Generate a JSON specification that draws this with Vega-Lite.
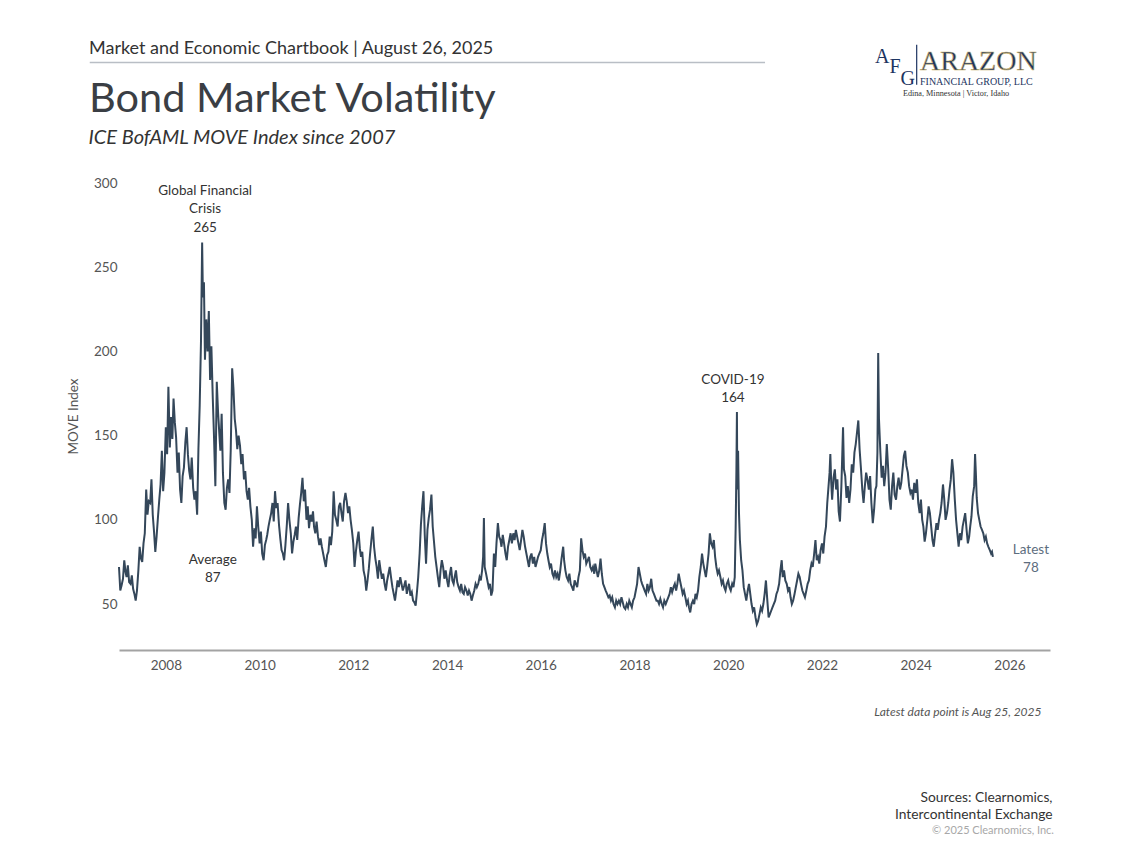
{
  "$schema": "https://vega.github.io/schema/vega-lite/v6.json",
  "description": "Bond Market Volatility - ICE BofAML MOVE Index since 2007",
  "width": 931,
  "height": 467,
  "autosize": {"type": "none"},
  "padding": {"left": 119, "top": 183, "right": 88, "bottom": 207},
  "background": "white",
  "title": {
    "text": "Market and Economic Chartbook | August 26, 2025",
    "subtitle": "Bond Market Volatility",
    "anchor": "start",
    "frame": "group",
    "dx": -30,
    "offset": -76,
    "font": "Lato",
    "fontSize": 18,
    "fontWeight": "normal",
    "color": "#333333",
    "subtitleFont": "Lato",
    "subtitleFontSize": 41.5,
    "subtitleColor": "#3a3e44",
    "subtitlePadding": 21
  },
  "config": {
    "view": {"stroke": null},
    "font": "Lato",
    "axis": {"titleFontWeight": "normal", "labelFont": "Lato", "titleFont": "Lato"}
  },
  "layer": [
    {
      "data": {"values": [
        {"d":"2007-01-01","v":72},{"d":"2007-01-11","v":58},{"d":"2007-01-21","v":61},
        {"d":"2007-02-01","v":65},{"d":"2007-02-11","v":76},{"d":"2007-02-21","v":69},
        {"d":"2007-03-01","v":66},{"d":"2007-03-11","v":73},{"d":"2007-03-21","v":63},
        {"d":"2007-04-01","v":62},{"d":"2007-04-11","v":67},{"d":"2007-04-21","v":59},
        {"d":"2007-05-01","v":56},{"d":"2007-05-11","v":52},{"d":"2007-05-21","v":58},
        {"d":"2007-06-01","v":70},{"d":"2007-06-11","v":84},{"d":"2007-06-21","v":77},
        {"d":"2007-07-01","v":75},{"d":"2007-07-11","v":86},{"d":"2007-07-21","v":92},
        {"d":"2007-08-01","v":118},{"d":"2007-08-11","v":103},{"d":"2007-08-21","v":111},
        {"d":"2007-09-01","v":110},{"d":"2007-09-11","v":124},{"d":"2007-09-21","v":103},
        {"d":"2007-10-01","v":93},{"d":"2007-10-11","v":81},{"d":"2007-10-21","v":90},
        {"d":"2007-11-01","v":102},{"d":"2007-11-11","v":112},{"d":"2007-11-21","v":121},
        {"d":"2007-12-01","v":141},{"d":"2007-12-11","v":117},{"d":"2007-12-21","v":128},
        {"d":"2008-01-01","v":155},{"d":"2008-01-11","v":139},{"d":"2008-01-21","v":179},
        {"d":"2008-02-01","v":143},{"d":"2008-02-11","v":161},{"d":"2008-02-21","v":148},
        {"d":"2008-03-01","v":172},{"d":"2008-03-11","v":158},{"d":"2008-03-21","v":149},
        {"d":"2008-04-01","v":128},{"d":"2008-04-11","v":140},{"d":"2008-04-21","v":118},
        {"d":"2008-05-01","v":110},{"d":"2008-05-11","v":126},{"d":"2008-05-21","v":131},
        {"d":"2008-06-01","v":146},{"d":"2008-06-11","v":155},{"d":"2008-06-21","v":139},
        {"d":"2008-07-01","v":129},{"d":"2008-07-11","v":124},{"d":"2008-07-21","v":137},
        {"d":"2008-08-01","v":119},{"d":"2008-08-11","v":112},{"d":"2008-08-21","v":117},
        {"d":"2008-09-01","v":103},{"d":"2008-09-11","v":142},{"d":"2008-09-21","v":168},
        {"d":"2008-10-01","v":206},{"d":"2008-10-10","v":264.6},{"d":"2008-10-16","v":232},{"d":"2008-10-24","v":241},
        {"d":"2008-11-01","v":195},{"d":"2008-11-11","v":219},{"d":"2008-11-21","v":200},
        {"d":"2008-12-01","v":224},{"d":"2008-12-11","v":183},{"d":"2008-12-21","v":203},
        {"d":"2009-01-01","v":172},{"d":"2009-01-11","v":148},{"d":"2009-01-21","v":120},
        {"d":"2009-02-01","v":182},{"d":"2009-02-11","v":164},{"d":"2009-02-21","v":151},
        {"d":"2009-03-01","v":141},{"d":"2009-03-11","v":163},{"d":"2009-03-21","v":128},
        {"d":"2009-04-01","v":110},{"d":"2009-04-11","v":106},{"d":"2009-04-21","v":119},
        {"d":"2009-05-01","v":124},{"d":"2009-05-11","v":116},{"d":"2009-05-21","v":142},
        {"d":"2009-06-01","v":190},{"d":"2009-06-11","v":178},{"d":"2009-06-21","v":160},
        {"d":"2009-07-01","v":153},{"d":"2009-07-11","v":142},{"d":"2009-07-21","v":150},
        {"d":"2009-08-01","v":144},{"d":"2009-08-11","v":133},{"d":"2009-08-21","v":139},
        {"d":"2009-09-01","v":124},{"d":"2009-09-11","v":129},{"d":"2009-09-21","v":117},
        {"d":"2009-10-01","v":112},{"d":"2009-10-11","v":119},{"d":"2009-10-21","v":108},
        {"d":"2009-11-01","v":100},{"d":"2009-11-11","v":84},{"d":"2009-11-21","v":95},
        {"d":"2009-12-01","v":89},{"d":"2009-12-11","v":108},{"d":"2009-12-21","v":96},
        {"d":"2010-01-01","v":86},{"d":"2010-01-11","v":93},{"d":"2010-01-21","v":80},
        {"d":"2010-02-01","v":76},{"d":"2010-02-11","v":85},{"d":"2010-02-21","v":88},
        {"d":"2010-03-01","v":91},{"d":"2010-03-11","v":96},{"d":"2010-03-21","v":100},
        {"d":"2010-04-01","v":104},{"d":"2010-04-11","v":110},{"d":"2010-04-21","v":99},
        {"d":"2010-05-01","v":117},{"d":"2010-05-11","v":107},{"d":"2010-05-21","v":110},
        {"d":"2010-06-01","v":97},{"d":"2010-06-11","v":89},{"d":"2010-06-21","v":82},
        {"d":"2010-07-01","v":80},{"d":"2010-07-11","v":76},{"d":"2010-07-21","v":85},
        {"d":"2010-08-01","v":97},{"d":"2010-08-11","v":110},{"d":"2010-08-21","v":100},
        {"d":"2010-09-01","v":92},{"d":"2010-09-11","v":80},{"d":"2010-09-21","v":87},
        {"d":"2010-10-01","v":91},{"d":"2010-10-11","v":96},{"d":"2010-10-21","v":88},
        {"d":"2010-11-01","v":101},{"d":"2010-11-11","v":109},{"d":"2010-11-21","v":116},
        {"d":"2010-12-01","v":125},{"d":"2010-12-11","v":111},{"d":"2010-12-21","v":118},
        {"d":"2011-01-01","v":100},{"d":"2011-01-11","v":108},{"d":"2011-01-21","v":95},
        {"d":"2011-02-01","v":103},{"d":"2011-02-11","v":99},{"d":"2011-02-21","v":105},
        {"d":"2011-03-01","v":96},{"d":"2011-03-11","v":92},{"d":"2011-03-21","v":99},
        {"d":"2011-04-01","v":90},{"d":"2011-04-11","v":85},{"d":"2011-04-21","v":89},
        {"d":"2011-05-01","v":84},{"d":"2011-05-11","v":80},{"d":"2011-05-21","v":76},
        {"d":"2011-06-01","v":72},{"d":"2011-06-11","v":79},{"d":"2011-06-21","v":81},
        {"d":"2011-07-01","v":90},{"d":"2011-07-11","v":85},{"d":"2011-07-21","v":93},
        {"d":"2011-08-01","v":117},{"d":"2011-08-11","v":103},{"d":"2011-08-21","v":100},
        {"d":"2011-09-01","v":96},{"d":"2011-09-11","v":108},{"d":"2011-09-21","v":110},
        {"d":"2011-10-01","v":104},{"d":"2011-10-11","v":99},{"d":"2011-10-21","v":111},
        {"d":"2011-11-01","v":116},{"d":"2011-11-11","v":111},{"d":"2011-11-21","v":104},
        {"d":"2011-12-01","v":108},{"d":"2011-12-11","v":100},{"d":"2011-12-21","v":94},
        {"d":"2012-01-01","v":86},{"d":"2012-01-11","v":72},{"d":"2012-01-21","v":81},
        {"d":"2012-02-01","v":88},{"d":"2012-02-11","v":93},{"d":"2012-02-21","v":83},
        {"d":"2012-03-01","v":78},{"d":"2012-03-11","v":81},{"d":"2012-03-21","v":70},
        {"d":"2012-04-01","v":66},{"d":"2012-04-11","v":58},{"d":"2012-04-21","v":64},
        {"d":"2012-05-01","v":71},{"d":"2012-05-11","v":80},{"d":"2012-05-21","v":88},
        {"d":"2012-06-01","v":96},{"d":"2012-06-11","v":84},{"d":"2012-06-21","v":77},
        {"d":"2012-07-01","v":72},{"d":"2012-07-11","v":65},{"d":"2012-07-21","v":76},
        {"d":"2012-08-01","v":70},{"d":"2012-08-11","v":65},{"d":"2012-08-21","v":68},
        {"d":"2012-09-01","v":62},{"d":"2012-09-11","v":58},{"d":"2012-09-21","v":64},
        {"d":"2012-10-01","v":68},{"d":"2012-10-11","v":72},{"d":"2012-10-21","v":66},
        {"d":"2012-11-01","v":60},{"d":"2012-11-11","v":56},{"d":"2012-11-21","v":52},
        {"d":"2012-12-01","v":58},{"d":"2012-12-11","v":64},{"d":"2012-12-21","v":60},
        {"d":"2013-01-01","v":66},{"d":"2013-01-11","v":62},{"d":"2013-01-21","v":58},
        {"d":"2013-02-01","v":61},{"d":"2013-02-11","v":64},{"d":"2013-02-21","v":56},
        {"d":"2013-03-01","v":59},{"d":"2013-03-11","v":62},{"d":"2013-03-21","v":55},
        {"d":"2013-04-01","v":57},{"d":"2013-04-11","v":52},{"d":"2013-04-21","v":51},
        {"d":"2013-05-01","v":49},{"d":"2013-05-11","v":57},{"d":"2013-05-21","v":66},
        {"d":"2013-06-01","v":80},{"d":"2013-06-11","v":97},{"d":"2013-06-21","v":108},
        {"d":"2013-07-01","v":117},{"d":"2013-07-11","v":91},{"d":"2013-07-21","v":74},
        {"d":"2013-08-01","v":94},{"d":"2013-08-11","v":101},{"d":"2013-08-21","v":106},
        {"d":"2013-09-01","v":115},{"d":"2013-09-11","v":96},{"d":"2013-09-21","v":87},
        {"d":"2013-10-01","v":78},{"d":"2013-10-11","v":72},{"d":"2013-10-21","v":66},
        {"d":"2013-11-01","v":60},{"d":"2013-11-11","v":70},{"d":"2013-11-21","v":76},
        {"d":"2013-12-01","v":72},{"d":"2013-12-11","v":65},{"d":"2013-12-21","v":70},
        {"d":"2014-01-01","v":64},{"d":"2014-01-11","v":60},{"d":"2014-01-21","v":67},
        {"d":"2014-02-01","v":72},{"d":"2014-02-11","v":64},{"d":"2014-02-21","v":62},
        {"d":"2014-03-01","v":66},{"d":"2014-03-11","v":70},{"d":"2014-03-21","v":63},
        {"d":"2014-04-01","v":60},{"d":"2014-04-11","v":58},{"d":"2014-04-21","v":62},
        {"d":"2014-05-01","v":57},{"d":"2014-05-11","v":56},{"d":"2014-05-21","v":60},
        {"d":"2014-06-01","v":58},{"d":"2014-06-11","v":55},{"d":"2014-06-21","v":58},
        {"d":"2014-07-01","v":56},{"d":"2014-07-11","v":52},{"d":"2014-07-21","v":55},
        {"d":"2014-08-01","v":58},{"d":"2014-08-11","v":62},{"d":"2014-08-21","v":60},
        {"d":"2014-09-01","v":62},{"d":"2014-09-11","v":66},{"d":"2014-09-21","v":64},
        {"d":"2014-10-01","v":70},{"d":"2014-10-09","v":78},{"d":"2014-10-15","v":101},{"d":"2014-10-21","v":72},
        {"d":"2014-11-01","v":68},{"d":"2014-11-11","v":64},{"d":"2014-11-21","v":60},
        {"d":"2014-12-01","v":62},{"d":"2014-12-11","v":55},{"d":"2014-12-21","v":58},
        {"d":"2015-01-01","v":80},{"d":"2015-01-11","v":72},{"d":"2015-01-21","v":86},
        {"d":"2015-02-01","v":98},{"d":"2015-02-11","v":90},{"d":"2015-02-21","v":88},
        {"d":"2015-03-01","v":84},{"d":"2015-03-11","v":91},{"d":"2015-03-21","v":86},
        {"d":"2015-04-01","v":80},{"d":"2015-04-11","v":76},{"d":"2015-04-21","v":84},
        {"d":"2015-05-01","v":88},{"d":"2015-05-11","v":92},{"d":"2015-05-21","v":86},
        {"d":"2015-06-01","v":92},{"d":"2015-06-11","v":88},{"d":"2015-06-21","v":94},
        {"d":"2015-07-01","v":90},{"d":"2015-07-11","v":86},{"d":"2015-07-21","v":82},
        {"d":"2015-08-01","v":88},{"d":"2015-08-11","v":94},{"d":"2015-08-21","v":90},
        {"d":"2015-09-01","v":84},{"d":"2015-09-11","v":80},{"d":"2015-09-21","v":76},
        {"d":"2015-10-01","v":72},{"d":"2015-10-11","v":78},{"d":"2015-10-21","v":80},
        {"d":"2015-11-01","v":74},{"d":"2015-11-11","v":78},{"d":"2015-11-21","v":72},
        {"d":"2015-12-01","v":75},{"d":"2015-12-11","v":78},{"d":"2015-12-21","v":80},
        {"d":"2016-01-01","v":82},{"d":"2016-01-11","v":88},{"d":"2016-01-21","v":92},
        {"d":"2016-02-01","v":98},{"d":"2016-02-11","v":86},{"d":"2016-02-21","v":80},
        {"d":"2016-03-01","v":76},{"d":"2016-03-11","v":72},{"d":"2016-03-21","v":74},
        {"d":"2016-04-01","v":68},{"d":"2016-04-11","v":66},{"d":"2016-04-21","v":70},
        {"d":"2016-05-01","v":66},{"d":"2016-05-11","v":68},{"d":"2016-05-21","v":64},
        {"d":"2016-06-01","v":70},{"d":"2016-06-11","v":77},{"d":"2016-06-24","v":84},
        {"d":"2016-07-01","v":76},{"d":"2016-07-11","v":70},{"d":"2016-07-21","v":66},
        {"d":"2016-08-01","v":64},{"d":"2016-08-11","v":68},{"d":"2016-08-21","v":62},
        {"d":"2016-09-01","v":60},{"d":"2016-09-11","v":58},{"d":"2016-09-21","v":64},
        {"d":"2016-10-01","v":62},{"d":"2016-10-11","v":60},{"d":"2016-10-21","v":66},
        {"d":"2016-11-01","v":70},{"d":"2016-11-11","v":89},{"d":"2016-11-21","v":82},
        {"d":"2016-12-01","v":78},{"d":"2016-12-11","v":80},{"d":"2016-12-21","v":74},
        {"d":"2017-01-01","v":76},{"d":"2017-01-11","v":78},{"d":"2017-01-21","v":72},
        {"d":"2017-02-01","v":70},{"d":"2017-02-11","v":72},{"d":"2017-02-21","v":68},
        {"d":"2017-03-01","v":74},{"d":"2017-03-11","v":70},{"d":"2017-03-21","v":66},
        {"d":"2017-04-01","v":70},{"d":"2017-04-11","v":77},{"d":"2017-04-21","v":68},
        {"d":"2017-05-01","v":62},{"d":"2017-05-11","v":60},{"d":"2017-05-21","v":58},
        {"d":"2017-06-01","v":56},{"d":"2017-06-11","v":54},{"d":"2017-06-21","v":55},
        {"d":"2017-07-01","v":52},{"d":"2017-07-11","v":54},{"d":"2017-07-21","v":50},
        {"d":"2017-08-01","v":48},{"d":"2017-08-11","v":52},{"d":"2017-08-21","v":50},
        {"d":"2017-09-01","v":52},{"d":"2017-09-11","v":50},{"d":"2017-09-21","v":54},
        {"d":"2017-10-01","v":51},{"d":"2017-10-11","v":48},{"d":"2017-10-21","v":47},
        {"d":"2017-11-01","v":50},{"d":"2017-11-11","v":48},{"d":"2017-11-21","v":52},
        {"d":"2017-12-01","v":50},{"d":"2017-12-11","v":48},{"d":"2017-12-21","v":52},
        {"d":"2018-01-01","v":54},{"d":"2018-01-11","v":58},{"d":"2018-01-21","v":62},
        {"d":"2018-02-01","v":72},{"d":"2018-02-11","v":68},{"d":"2018-02-21","v":64},
        {"d":"2018-03-01","v":62},{"d":"2018-03-11","v":60},{"d":"2018-03-21","v":58},
        {"d":"2018-04-01","v":56},{"d":"2018-04-11","v":62},{"d":"2018-04-21","v":58},
        {"d":"2018-05-01","v":60},{"d":"2018-05-11","v":65},{"d":"2018-05-21","v":58},
        {"d":"2018-06-01","v":56},{"d":"2018-06-11","v":54},{"d":"2018-06-21","v":52},
        {"d":"2018-07-01","v":52},{"d":"2018-07-11","v":50},{"d":"2018-07-21","v":53},
        {"d":"2018-08-01","v":50},{"d":"2018-08-11","v":48},{"d":"2018-08-21","v":52},
        {"d":"2018-09-01","v":50},{"d":"2018-09-11","v":52},{"d":"2018-09-21","v":54},
        {"d":"2018-10-01","v":56},{"d":"2018-10-11","v":60},{"d":"2018-10-21","v":57},
        {"d":"2018-11-01","v":60},{"d":"2018-11-11","v":62},{"d":"2018-11-21","v":58},
        {"d":"2018-12-01","v":62},{"d":"2018-12-11","v":68},{"d":"2018-12-21","v":64},
        {"d":"2019-01-01","v":60},{"d":"2019-01-11","v":56},{"d":"2019-01-21","v":58},
        {"d":"2019-02-01","v":54},{"d":"2019-02-11","v":50},{"d":"2019-02-21","v":52},
        {"d":"2019-03-01","v":48},{"d":"2019-03-11","v":45},{"d":"2019-03-21","v":50},
        {"d":"2019-04-01","v":52},{"d":"2019-04-11","v":50},{"d":"2019-04-21","v":56},
        {"d":"2019-05-01","v":54},{"d":"2019-05-11","v":58},{"d":"2019-05-21","v":66},
        {"d":"2019-06-01","v":72},{"d":"2019-06-11","v":80},{"d":"2019-06-21","v":74},
        {"d":"2019-07-01","v":70},{"d":"2019-07-11","v":66},{"d":"2019-07-21","v":72},
        {"d":"2019-08-01","v":80},{"d":"2019-08-11","v":92},{"d":"2019-08-21","v":86},
        {"d":"2019-09-01","v":84},{"d":"2019-09-11","v":88},{"d":"2019-09-21","v":78},
        {"d":"2019-10-01","v":72},{"d":"2019-10-11","v":68},{"d":"2019-10-21","v":70},
        {"d":"2019-11-01","v":66},{"d":"2019-11-11","v":62},{"d":"2019-11-21","v":64},
        {"d":"2019-12-01","v":60},{"d":"2019-12-11","v":58},{"d":"2019-12-21","v":62},
        {"d":"2020-01-01","v":64},{"d":"2020-01-11","v":60},{"d":"2020-01-21","v":58},
        {"d":"2020-02-01","v":62},{"d":"2020-02-11","v":60},{"d":"2020-02-21","v":66},{"d":"2020-02-28","v":95},
        {"d":"2020-03-05","v":130},{"d":"2020-03-09","v":164},{"d":"2020-03-12","v":118},{"d":"2020-03-18","v":141},{"d":"2020-03-25","v":104},
        {"d":"2020-04-01","v":88},{"d":"2020-04-11","v":76},{"d":"2020-04-21","v":70},
        {"d":"2020-05-01","v":60},{"d":"2020-05-11","v":56},{"d":"2020-05-21","v":52},
        {"d":"2020-06-01","v":58},{"d":"2020-06-11","v":62},{"d":"2020-06-21","v":56},
        {"d":"2020-07-01","v":50},{"d":"2020-07-11","v":46},{"d":"2020-07-21","v":48},
        {"d":"2020-08-01","v":42},{"d":"2020-08-11","v":38},{"d":"2020-08-21","v":40},
        {"d":"2020-09-01","v":44},{"d":"2020-09-11","v":48},{"d":"2020-09-21","v":46},
        {"d":"2020-10-01","v":50},{"d":"2020-10-11","v":56},{"d":"2020-10-21","v":64},
        {"d":"2020-11-01","v":52},{"d":"2020-11-11","v":42},{"d":"2020-11-21","v":44},
        {"d":"2020-12-01","v":46},{"d":"2020-12-11","v":48},{"d":"2020-12-21","v":50},
        {"d":"2021-01-01","v":52},{"d":"2021-01-11","v":56},{"d":"2021-01-21","v":58},
        {"d":"2021-02-01","v":62},{"d":"2021-02-11","v":70},{"d":"2021-02-21","v":76},
        {"d":"2021-03-01","v":66},{"d":"2021-03-11","v":70},{"d":"2021-03-21","v":64},
        {"d":"2021-04-01","v":62},{"d":"2021-04-11","v":58},{"d":"2021-04-21","v":60},
        {"d":"2021-05-01","v":54},{"d":"2021-05-11","v":50},{"d":"2021-05-21","v":52},
        {"d":"2021-06-01","v":56},{"d":"2021-06-11","v":60},{"d":"2021-06-21","v":64},
        {"d":"2021-07-01","v":68},{"d":"2021-07-11","v":66},{"d":"2021-07-21","v":62},
        {"d":"2021-08-01","v":58},{"d":"2021-08-11","v":56},{"d":"2021-08-21","v":54},
        {"d":"2021-09-01","v":58},{"d":"2021-09-11","v":62},{"d":"2021-09-21","v":64},
        {"d":"2021-10-01","v":70},{"d":"2021-10-11","v":74},{"d":"2021-10-21","v":72},
        {"d":"2021-11-01","v":80},{"d":"2021-11-11","v":88},{"d":"2021-11-21","v":76},
        {"d":"2021-12-01","v":78},{"d":"2021-12-11","v":74},{"d":"2021-12-21","v":82},
        {"d":"2022-01-01","v":86},{"d":"2022-01-11","v":80},{"d":"2022-01-21","v":90},
        {"d":"2022-02-01","v":96},{"d":"2022-02-11","v":110},{"d":"2022-02-21","v":120},
        {"d":"2022-03-01","v":128},{"d":"2022-03-07","v":139},{"d":"2022-03-14","v":122},{"d":"2022-03-21","v":112},
        {"d":"2022-04-01","v":125},{"d":"2022-04-11","v":130},{"d":"2022-04-21","v":118},
        {"d":"2022-05-01","v":124},{"d":"2022-05-11","v":105},{"d":"2022-05-21","v":99},
        {"d":"2022-06-01","v":120},{"d":"2022-06-14","v":155},{"d":"2022-06-21","v":130},
        {"d":"2022-07-01","v":126},{"d":"2022-07-11","v":113},{"d":"2022-07-21","v":120},
        {"d":"2022-08-01","v":110},{"d":"2022-08-11","v":118},{"d":"2022-08-21","v":133},
        {"d":"2022-09-01","v":128},{"d":"2022-09-11","v":140},{"d":"2022-09-21","v":145},
        {"d":"2022-10-01","v":152},{"d":"2022-10-11","v":159},{"d":"2022-10-21","v":142},
        {"d":"2022-11-01","v":130},{"d":"2022-11-11","v":118},{"d":"2022-11-21","v":110},
        {"d":"2022-12-01","v":120},{"d":"2022-12-11","v":128},{"d":"2022-12-21","v":124},
        {"d":"2023-01-01","v":118},{"d":"2023-01-11","v":126},{"d":"2023-01-21","v":110},
        {"d":"2023-02-01","v":98},{"d":"2023-02-11","v":106},{"d":"2023-02-21","v":118},
        {"d":"2023-03-01","v":120},{"d":"2023-03-09","v":140},{"d":"2023-03-15","v":199},{"d":"2023-03-21","v":160},
        {"d":"2023-04-01","v":140},{"d":"2023-04-11","v":125},{"d":"2023-04-21","v":132},
        {"d":"2023-05-01","v":120},{"d":"2023-05-11","v":128},{"d":"2023-05-21","v":145},
        {"d":"2023-06-01","v":130},{"d":"2023-06-11","v":112},{"d":"2023-06-21","v":106},
        {"d":"2023-07-01","v":120},{"d":"2023-07-11","v":128},{"d":"2023-07-21","v":115},
        {"d":"2023-08-01","v":112},{"d":"2023-08-11","v":120},{"d":"2023-08-21","v":125},
        {"d":"2023-09-01","v":118},{"d":"2023-09-11","v":122},{"d":"2023-09-21","v":130},
        {"d":"2023-10-01","v":138},{"d":"2023-10-11","v":141},{"d":"2023-10-21","v":132},
        {"d":"2023-11-01","v":128},{"d":"2023-11-11","v":120},{"d":"2023-11-21","v":116},
        {"d":"2023-12-01","v":118},{"d":"2023-12-11","v":112},{"d":"2023-12-21","v":122},
        {"d":"2024-01-01","v":116},{"d":"2024-01-11","v":124},{"d":"2024-01-21","v":110},
        {"d":"2024-02-01","v":104},{"d":"2024-02-11","v":112},{"d":"2024-02-21","v":100},
        {"d":"2024-03-01","v":96},{"d":"2024-03-11","v":87},{"d":"2024-03-21","v":92},
        {"d":"2024-04-01","v":100},{"d":"2024-04-11","v":108},{"d":"2024-04-21","v":104},
        {"d":"2024-05-01","v":96},{"d":"2024-05-11","v":88},{"d":"2024-05-21","v":84},
        {"d":"2024-06-01","v":92},{"d":"2024-06-11","v":98},{"d":"2024-06-21","v":94},
        {"d":"2024-07-01","v":100},{"d":"2024-07-11","v":104},{"d":"2024-07-21","v":110},
        {"d":"2024-08-01","v":121},{"d":"2024-08-11","v":112},{"d":"2024-08-21","v":100},
        {"d":"2024-09-01","v":104},{"d":"2024-09-11","v":110},{"d":"2024-09-21","v":118},
        {"d":"2024-10-01","v":124},{"d":"2024-10-11","v":136},{"d":"2024-10-21","v":128},
        {"d":"2024-11-01","v":112},{"d":"2024-11-11","v":100},{"d":"2024-11-21","v":92},
        {"d":"2024-12-01","v":84},{"d":"2024-12-11","v":92},{"d":"2024-12-21","v":88},
        {"d":"2025-01-01","v":96},{"d":"2025-01-11","v":100},{"d":"2025-01-21","v":104},
        {"d":"2025-02-01","v":94},{"d":"2025-02-11","v":86},{"d":"2025-02-21","v":90},
        {"d":"2025-03-01","v":96},{"d":"2025-03-11","v":102},{"d":"2025-03-21","v":114},
        {"d":"2025-04-01","v":120},{"d":"2025-04-08","v":139},{"d":"2025-04-14","v":128},{"d":"2025-04-21","v":113},
        {"d":"2025-05-01","v":104},{"d":"2025-05-11","v":100},{"d":"2025-05-21","v":96},
        {"d":"2025-06-01","v":94},{"d":"2025-06-11","v":92},{"d":"2025-06-21","v":88},
        {"d":"2025-07-01","v":90},{"d":"2025-07-11","v":86},{"d":"2025-07-21","v":84},
        {"d":"2025-08-01","v":82},{"d":"2025-08-11","v":80},{"d":"2025-08-18","v":81},{"d":"2025-08-25","v":78}
      ]},
      "mark": {"type": "line", "color": "#34475a", "strokeWidth": 2},
      "encoding": {
        "x": {
          "field": "d", "type": "temporal",
          "scale": {"domain": [{"year": 2007, "month": 1, "date": 1}, {"year": 2026, "month": 11, "date": 13}]},
          "axis": {
            "orient": "bottom", "format": "%Y", "tickCount": {"interval": "year", "step": 2},
            "grid": false, "ticks": false, "domainColor": "#a3a3a3", "domainWidth": 2,
            "labelFontSize": 13.5, "labelColor": "#555555", "labelPadding": 8,
            "title": "Latest data point is Aug 25, 2025",
            "titleFontSize": 12, "titleFontStyle": "italic", "titleColor": "#555555",
            "titleAlign": "right", "titleBaseline": "top", "titleX": 922, "titleY": 56
          }
        },
        "y": {
          "field": "v", "type": "quantitative",
          "scale": {"domain": [22.7, 300], "nice": false, "zero": false},
          "axis": {
            "orient": "left", "values": [50, 100, 150, 200, 250, 300],
            "grid": false, "ticks": false, "domain": false,
            "labelFontSize": 13.5, "labelColor": "#555555", "labelPadding": 2,
            "title": "MOVE Index", "titleFontSize": 13.5, "titleColor": "#555555",
            "titleAngle": -90, "titleAlign": "center", "titleBaseline": "middle",
            "titleX": -46, "titleY": 233
          }
        }
      }
    },
    {
      "mark": {"type": "rule", "color": "#e89a9a", "strokeWidth": 1.3, "strokeDash": [2, 3]},
      "encoding": {
        "y": {"datum": 87, "type": "quantitative", "scale": {"domain": [22.7, 300], "nice": false, "zero": false}, "axis": null}
      }
    },
    {
      "data": {"values": [{"d": "2025-08-25", "v": 78}]},
      "mark": {"type": "text", "text": ["Latest", "78"], "fontSize": 13.5, "lineHeight": 18, "color": "#5d6d7e", "align": "center", "baseline": "top", "dx": 38, "dy": -14},
      "encoding": {
        "x": {
          "field": "d", "type": "temporal",
          "scale": {"domain": [{"year": 2007, "month": 1, "date": 1}, {"year": 2026, "month": 11, "date": 13}]},
          "axis": {
            "orient": "top", "labels": false, "ticks": false, "domain": false, "grid": false,
            "title": "ICE BofAML MOVE Index since 2007",
            "titleFontSize": 20, "titleFontStyle": "italic", "titleColor": "#333333",
            "titleAngle": 0, "titleAlign": "left", "titleBaseline": "top", "titleX": -31, "titleY": -56
          }
        },
        "y": {
          "field": "v", "type": "quantitative",
          "scale": {"domain": [22.7, 300], "nice": false, "zero": false},
          "axis": {
            "orient": "right", "labels": false, "ticks": false, "domain": false, "grid": false,
            "title": ["Sources: Clearnomics,", "Intercontinental Exchange"],
            "titleFontSize": 13.8, "titleColor": "#333333", "titleLineHeight": 17,
            "titleAngle": 0, "titleAlign": "right", "titleBaseline": "top", "titleX": 2, "titleY": 607
          }
        }
      }
    },
    {
      "data": {"values": [{"d": "2008-10-10", "v": 265}]},
      "mark": {"type": "text", "text": ["Global Financial", "Crisis", "265"], "fontSize": 13.5, "lineHeight": 18.5, "color": "#333333", "align": "center", "baseline": "top", "dx": 3, "dy": -58},
      "encoding": {
        "x": {"field": "d", "type": "temporal", "scale": {"domain": [{"year": 2007, "month": 1, "date": 1}, {"year": 2026, "month": 11, "date": 13}]}, "axis": null},
        "y": {"field": "v", "type": "quantitative", "scale": {"domain": [22.7, 300], "nice": false, "zero": false}, "axis": null}
      }
    },
    {
      "data": {"values": [{"d": "2020-03-09", "v": 164}]},
      "mark": {"type": "text", "text": ["COVID-19", "164"], "fontSize": 13.5, "lineHeight": 17.5, "color": "#333333", "align": "center", "baseline": "top", "dx": -4, "dy": -39},
      "encoding": {
        "x": {"field": "d", "type": "temporal", "scale": {"domain": [{"year": 2007, "month": 1, "date": 1}, {"year": 2026, "month": 11, "date": 13}]}, "axis": null},
        "y": {"field": "v", "type": "quantitative", "scale": {"domain": [22.7, 300], "nice": false, "zero": false}, "axis": null}
      }
    },
    {
      "data": {"values": [{"d": "2009-01-01", "v": 87}]},
      "mark": {"type": "text", "text": ["Average", "87"], "fontSize": 13.5, "lineHeight": 18, "color": "#333333", "align": "center", "baseline": "top", "dy": 11.5},
      "encoding": {
        "x": {"field": "d", "type": "temporal", "scale": {"domain": [{"year": 2007, "month": 1, "date": 1}, {"year": 2026, "month": 11, "date": 13}]}, "axis": null},
        "y": {"field": "v", "type": "quantitative", "scale": {"domain": [22.7, 300], "nice": false, "zero": false}, "axis": null}
      }
    },
    {
      "data": {"values": [{"d": "2026-12-14", "v": -84.9}]},
      "mark": {"type": "text", "text": "© 2025 Clearnomics, Inc.", "fontSize": 11, "color": "#a8a8a8", "align": "right", "baseline": "middle"},
      "encoding": {
        "x": {"field": "d", "type": "temporal", "scale": {"domain": [{"year": 2007, "month": 1, "date": 1}, {"year": 2026, "month": 11, "date": 13}]}, "axis": null},
        "y": {"field": "v", "type": "quantitative", "scale": {"domain": [22.7, 300], "nice": false, "zero": false}, "axis": null}
      }
    },
    {
      "data": {"values": [{"d": "2006-05-18", "d2": "2020-10-14", "v": 371.5}]},
      "mark": {"type": "rule", "color": "#b9bec5", "strokeWidth": 1.5},
      "encoding": {
        "x": {"field": "d", "type": "temporal", "scale": {"domain": [{"year": 2007, "month": 1, "date": 1}, {"year": 2026, "month": 11, "date": 13}]}, "axis": null},
        "x2": {"field": "d2"},
        "y": {"field": "v", "type": "quantitative", "scale": {"domain": [22.7, 300], "nice": false, "zero": false}, "axis": null}
      }
    },
    {
      "data": {"values": [{"d": "2024-01-09", "v": 382.1, "v2": 358.4}]},
      "mark": {"type": "rule", "color": "#1d3461", "strokeWidth": 1.2},
      "encoding": {
        "x": {"field": "d", "type": "temporal", "scale": {"domain": [{"year": 2007, "month": 1, "date": 1}, {"year": 2026, "month": 11, "date": 13}]}, "axis": null},
        "y": {"field": "v", "type": "quantitative", "scale": {"domain": [22.7, 300], "nice": false, "zero": false}, "axis": null},
        "y2": {"field": "v2"}
      }
    },
    {
      "data": {"values": [{"d": "2024-01-09", "v": 370.3}]},
      "encoding": {
        "x": {"field": "d", "type": "temporal", "scale": {"domain": [{"year": 2007, "month": 1, "date": 1}, {"year": 2026, "month": 11, "date": 13}]}, "axis": null},
        "y": {"field": "v", "type": "quantitative", "scale": {"domain": [22.7, 300], "nice": false, "zero": false}, "axis": null}
      },
      "layer": [
        {"mark": {"type": "text", "text": "A", "font": "Liberation Serif", "fontSize": 20, "color": "#1d3461", "align": "left", "baseline": "alphabetic", "dx": -41.7, "dy": -1.7}},
        {"mark": {"type": "text", "text": "F", "font": "Liberation Serif", "fontSize": 20, "color": "#1d3461", "align": "left", "baseline": "alphabetic", "dx": -27.2, "dy": 8.3}},
        {"mark": {"type": "text", "text": "G", "font": "Liberation Serif", "fontSize": 20, "color": "#1d3461", "align": "left", "baseline": "alphabetic", "dx": -16.1, "dy": 20}},
        {"mark": {"type": "text", "text": "ARAZON", "font": "Liberation Serif", "fontSize": 28, "color": "#1d3461", "stroke": "#c9b36e", "strokeWidth": 0.6, "align": "left", "baseline": "alphabetic", "dx": 3.3, "dy": 5}},
        {"mark": {"type": "text", "text": "FINANCIAL GROUP, LLC", "font": "Liberation Serif", "fontSize": 10, "color": "#1d3461", "align": "left", "baseline": "alphabetic", "dx": 3.3, "dy": 20}},
        {"mark": {"type": "text", "text": "Edina, Minnesota  |  Victor, Idaho", "font": "Liberation Serif", "fontSize": 8.2, "color": "#333333", "align": "center", "baseline": "alphabetic", "dx": 39.3, "dy": 31.5}}
      ]
    }
  ]
}
